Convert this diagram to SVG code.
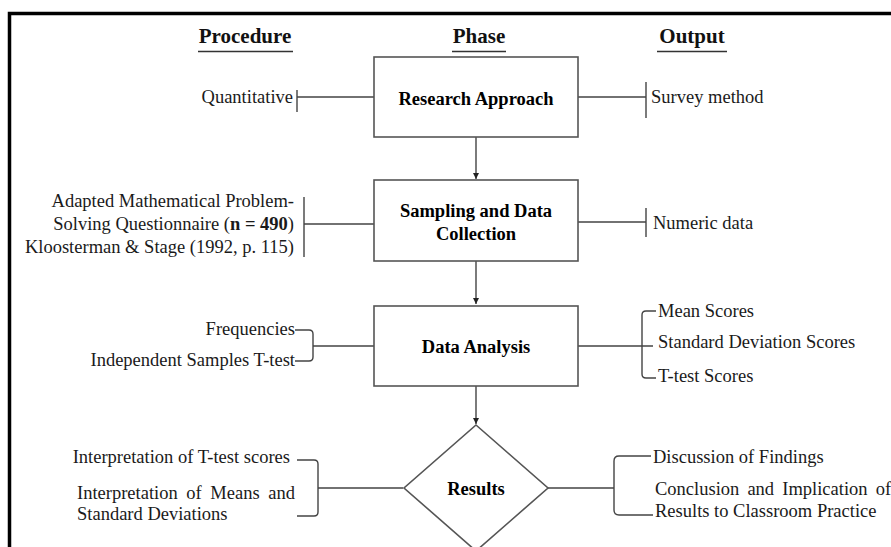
<svg xmlns="http://www.w3.org/2000/svg" width="891" height="547" viewBox="0 0 891 547">
<defs>
<marker id="ah" markerWidth="8" markerHeight="8" refX="6" refY="3" orient="auto" markerUnits="userSpaceOnUse">
<path d="M0,0 L6,3 L0,6 Z" fill="#222"/>
</marker>
</defs>
<style>
text{font-family:"Liberation Serif","Times New Roman",serif;fill:#1a1a1a}
.b{font-size:18.5px}
.h{font-size:21px;font-weight:bold;text-anchor:middle;fill:#111}
.n{font-size:18.5px;font-weight:bold;text-anchor:middle;fill:#000}
.shape{fill:#fff;stroke:#555;stroke-width:1.6}
.c{fill:none;stroke:#444;stroke-width:1.4}
.e{text-anchor:end}
</style>
<rect width="891" height="547" fill="#fff"/>
<path d="M9.5,560 V13.5 H900" fill="none" stroke="#000" stroke-width="3.5"/>

<g id="headers">
<text class="h" x="245" y="43">Procedure</text>
<line x1="198" y1="51.5" x2="293" y2="51.5" stroke="#333" stroke-width="1.6"/>
<text class="h" x="479" y="43">Phase</text>
<line x1="452" y1="51.5" x2="506" y2="51.5" stroke="#333" stroke-width="1.6"/>
<text class="h" x="692" y="43">Output</text>
<line x1="657" y1="51.5" x2="727" y2="51.5" stroke="#333" stroke-width="1.6"/>
</g>

<g id="connectors">
<line class="c" x1="476" y1="137" x2="476" y2="179" marker-end="url(#ah)"/>
<line class="c" x1="476" y1="261" x2="476" y2="304" marker-end="url(#ah)"/>
<line class="c" x1="476" y1="386" x2="476" y2="424" marker-end="url(#ah)"/>
<!-- research approach -->
<path class="c" d="M297,90 V112 M297,97 H374"/>
<path class="c" d="M578,97 H646 M646,82 V118"/>
<!-- sampling -->
<path class="c" d="M304,197 V257 M304,224 H374"/>
<path class="c" d="M578,222 H646 M646,208 V237"/>
<!-- data analysis -->
<path class="c" d="M295,330 H309 Q313,330 313,334 V357 Q313,361 309,361 H295 M313,346 H374"/>
<path class="c" d="M578,346 H653 M656,311 H646 Q642,311 642,315 V374 Q642,378 646,378 H656"/>
<!-- results -->
<path class="c" d="M297,460 H314 Q318,460 318,464 V512 Q318,516 314,516 H297 M318,488 H403"/>
<path class="c" d="M548,488 H614 M651,456 H619 Q614,456 614,461 V510 Q614,515 619,515 H653"/>
</g>

<g id="research-approach">
<rect class="shape" x="374" y="57" width="204" height="80"/>
<text class="n" x="476" y="105">Research Approach</text>
</g>
<g id="sampling">
<rect class="shape" x="374" y="180" width="204" height="81"/>
<text class="n" x="476" y="217">Sampling and Data</text>
<text class="n" x="476" y="240">Collection</text>
</g>
<g id="data-analysis">
<rect class="shape" x="374" y="306" width="204" height="80"/>
<text class="n" x="476" y="353">Data Analysis</text>
</g>
<g id="results">
<path class="shape" d="M476,425 L548,488 L476,551 L404,488 Z"/>
<text class="n" x="476" y="495">Results</text>
</g>

<g id="procedure-labels">
<text class="b e" x="293" y="103">Quantitative</text>
<text class="b e" x="294" y="207">Adapted Mathematical Problem-</text>
<text class="b e" x="294" y="230">Solving Questionnaire (<tspan font-weight="bold">n = 490</tspan>)</text>
<text class="b e" x="294" y="253">Kloosterman &amp; Stage (1992, p. 115)</text>
<text class="b e" x="295" y="335">Frequencies</text>
<text class="b e" x="295" y="366">Independent Samples T-test</text>
<text class="b e" x="290" y="463">Interpretation of T-test scores</text>
<text class="b" x="77" y="499" word-spacing="4">Interpretation of Means and</text>
<text class="b" x="77" y="520">Standard Deviations</text>
</g>

<g id="output-labels">
<text class="b" x="651" y="103">Survey method</text>
<text class="b" x="653" y="229">Numeric data</text>
<text class="b" x="658" y="317">Mean Scores</text>
<text class="b" x="658" y="348">Standard Deviation Scores</text>
<text class="b" x="658" y="382">T-test Scores</text>
<text class="b" x="653" y="463">Discussion of Findings</text>
<text class="b" x="655" y="495" word-spacing="3.5">Conclusion and Implication of</text>
<text class="b" x="655" y="517">Results to Classroom Practice</text>
</g>
</svg>
